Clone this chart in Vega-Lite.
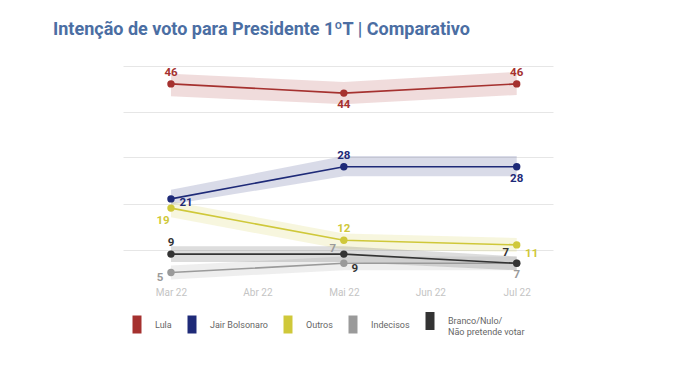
{
  "$schema": "https://vega.github.io/schema/vega-lite/v6.json",
  "width": 430,
  "height": 230,
  "autosize": {"type": "none"},
  "padding": {"left": 123, "top": 54, "right": 126, "bottom": 97},
  "background": "white",
  "config": {
    "view": {"stroke": null},
    "font": "Roboto"
  },
  "title": {
    "text": "Intenção de voto para Presidente 1ºT | Comparativo",
    "anchor": "start",
    "frame": "group",
    "dx": -70,
    "offset": 6,
    "baseline": "middle",
    "font": "Roboto",
    "fontSize": 18,
    "fontWeight": "bold",
    "color": "#4b6ea3"
  },
  "data": {
    "values": [
      {"s": "Lula", "m": 3, "v": 46, "lo": 43.3, "hi": 48.2},
      {"s": "Lula", "m": 5, "v": 44, "lo": 41.6, "hi": 46.4},
      {"s": "Lula", "m": 7, "v": 46, "lo": 43.6, "hi": 48.6},
      {"s": "Jair Bolsonaro", "m": 3, "v": 21, "lo": 19.8, "hi": 23},
      {"s": "Jair Bolsonaro", "m": 5, "v": 28, "lo": 25.9, "hi": 30.3},
      {"s": "Jair Bolsonaro", "m": 7, "v": 28, "lo": 25.9, "hi": 30.3},
      {"s": "Outros", "m": 3, "v": 19, "lo": 17, "hi": 20.5},
      {"s": "Outros", "m": 5, "v": 12, "lo": 10, "hi": 13.5},
      {"s": "Outros", "m": 7, "v": 11, "lo": 9.5, "hi": 12.5},
      {"s": "Indecisos", "m": 3, "v": 5, "lo": 3.5, "hi": 6.5},
      {"s": "Indecisos", "m": 5, "v": 7, "lo": 5.5, "hi": 8.5},
      {"s": "Indecisos", "m": 7, "v": 7, "lo": 5.5, "hi": 8.5},
      {"s": "Branco/Nulo/Não pretende votar", "m": 3, "v": 9, "lo": 7.3, "hi": 10.7},
      {"s": "Branco/Nulo/Não pretende votar", "m": 5, "v": 9, "lo": 7.3, "hi": 10.7},
      {"s": "Branco/Nulo/Não pretende votar", "m": 7, "v": 7, "lo": 5.5, "hi": 8.5}
    ]
  },
  "encoding": {
    "x": {
      "field": "m",
      "type": "quantitative",
      "scale": {"domain": [2.445, 7.42], "nice": false, "zero": false},
      "axis": {
        "title": null,
        "values": [3, 4, 5, 6, 7],
        "labelExpr": "['Mar 22','Abr 22','Mai 22','Jun 22','Jul 22'][datum.value - 3]",
        "domain": false,
        "ticks": false,
        "grid": false,
        "labelColor": "#c4c4c4",
        "labelFontSize": 10,
        "labelPadding": 3,
        "labelFont": "Roboto"
      }
    },
    "color": {
      "field": "s",
      "type": "nominal",
      "scale": {
        "domain": ["Lula", "Jair Bolsonaro", "Outros", "Indecisos", "Branco/Nulo/Não pretende votar"],
        "range": ["#a5312f", "#1e2a78", "#cfc83a", "#9a9a9a", "#333333"]
      },
      "legend": {
        "title": null,
        "orient": "none",
        "direction": "horizontal",
        "legendX": 5,
        "legendY": 258,
        "symbolType": "M-0.5,-1H0.5V1H-0.5Z",
        "symbolSize": 324,
        "symbolStrokeWidth": 0,
        "symbolOpacity": 1,
        "labelFont": "Roboto",
        "labelFontSize": 9,
        "labelColor": "#666666",
        "labelOffset": 9,
        "columnPadding": 11,
        "labelExpr": "datum.value == 'Branco/Nulo/Não pretende votar' ? ['Branco/Nulo/', 'Não pretende votar'] : datum.label"
      }
    }
  },
  "layer": [
    {
      "mark": {"type": "area", "opacity": 0.17},
      "encoding": {
        "y": {
          "field": "lo",
          "type": "quantitative",
          "scale": {"domain": [2.5, 52.5], "nice": false, "zero": false},
          "axis": {
            "title": null,
            "values": [10, 20, 30, 40, 50],
            "labels": false,
            "ticks": false,
            "domain": false,
            "grid": true,
            "gridColor": "#e6e6e6",
            "gridWidth": 1
          }
        },
        "y2": {"field": "hi"}
      }
    },
    {
      "mark": {"type": "line", "strokeWidth": 1.6},
      "encoding": {"y": {"field": "v", "type": "quantitative"}}
    },
    {
      "mark": {"type": "point", "filled": true, "opacity": 1, "size": 55},
      "encoding": {"y": {"field": "v", "type": "quantitative"}}
    },
    {
      "transform": [{"filter": "(datum.s == 'Lula' && datum.m != 5) || (datum.s == 'Jair Bolsonaro' && datum.m == 5) || (datum.s == 'Outros' && datum.m == 5) || (datum.s == 'Branco/Nulo/Não pretende votar' && datum.m == 3)"}],
      "mark": {"type": "text", "fontWeight": "bold", "fontSize": 11.5, "dy": -11},
      "encoding": {"y": {"field": "v", "type": "quantitative"}, "text": {"field": "v"}}
    },
    {
      "transform": [{"filter": "(datum.s == 'Lula' && datum.m == 5) || (datum.s == 'Jair Bolsonaro' && datum.m == 7) || (datum.s == 'Indecisos' && datum.m == 7)"}],
      "mark": {"type": "text", "fontWeight": "bold", "fontSize": 11.5, "dy": 12},
      "encoding": {"y": {"field": "v", "type": "quantitative"}, "text": {"field": "v"}}
    },
    {
      "transform": [{"filter": "datum.s == 'Jair Bolsonaro' && datum.m == 3"}],
      "mark": {"type": "text", "fontWeight": "bold", "fontSize": 11.5, "dx": 15, "dy": 4},
      "encoding": {"y": {"field": "v", "type": "quantitative"}, "text": {"field": "v"}}
    },
    {
      "transform": [{"filter": "datum.s == 'Outros' && datum.m == 7"}],
      "mark": {"type": "text", "fontWeight": "bold", "fontSize": 11.5, "dx": 15, "dy": 9},
      "encoding": {"y": {"field": "v", "type": "quantitative"}, "text": {"field": "v"}}
    },
    {
      "transform": [{"filter": "datum.s == 'Branco/Nulo/Não pretende votar' && datum.m == 5"}],
      "mark": {"type": "text", "fontWeight": "bold", "fontSize": 11.5, "dx": 11, "dy": 15},
      "encoding": {"y": {"field": "v", "type": "quantitative"}, "text": {"field": "v"}}
    },
    {
      "transform": [{"filter": "datum.s == 'Outros' && datum.m == 3"}],
      "mark": {"type": "text", "fontWeight": "bold", "fontSize": 11.5, "dx": -8, "dy": 13},
      "encoding": {"y": {"field": "v", "type": "quantitative"}, "text": {"field": "v"}}
    },
    {
      "transform": [{"filter": "datum.s == 'Indecisos' && datum.m == 3"}],
      "mark": {"type": "text", "fontWeight": "bold", "fontSize": 11.5, "dx": -11, "dy": 5},
      "encoding": {"y": {"field": "v", "type": "quantitative"}, "text": {"field": "v"}}
    },
    {
      "transform": [{"filter": "(datum.s == 'Branco/Nulo/Não pretende votar' && datum.m == 7)"}],
      "mark": {"type": "text", "fontWeight": "bold", "fontSize": 11.5, "dx": -11, "dy": -10},
      "encoding": {"y": {"field": "v", "type": "quantitative"}, "text": {"field": "v"}}
    },
    {
      "transform": [{"filter": "(datum.s == 'Indecisos' && datum.m == 5)"}],
      "mark": {"type": "text", "fontWeight": "bold", "fontSize": 11.5, "dx": -11, "dy": -14},
      "encoding": {"y": {"field": "v", "type": "quantitative"}, "text": {"field": "v"}}
    }
  ]
}
